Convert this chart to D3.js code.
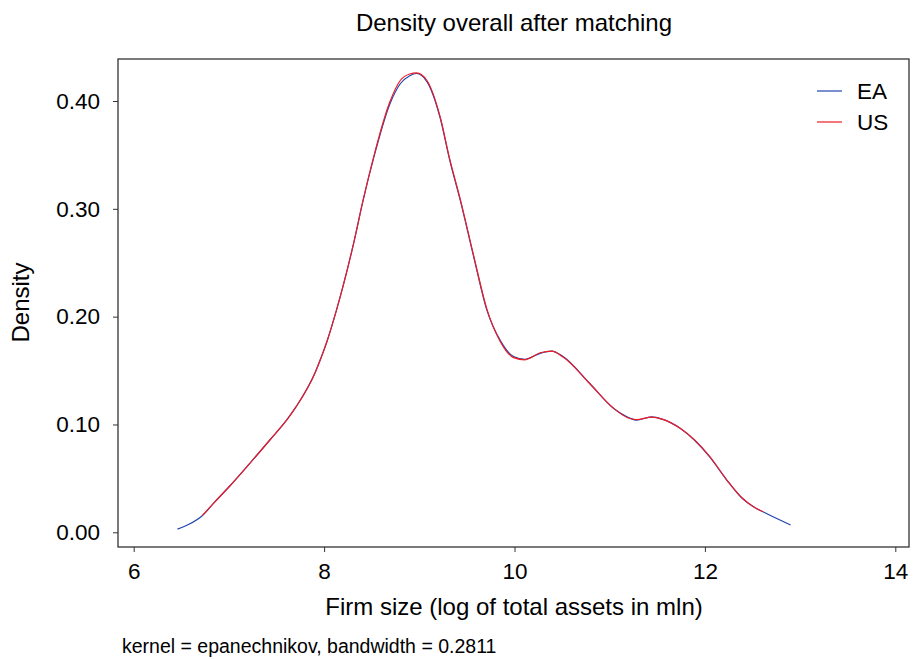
<!DOCTYPE html>
<html>
<head>
<meta charset="utf-8">
<script src="https://cdn.jsdelivr.net/npm/d3@7"></script>
<style>
  body { margin: 0; background: #fff; }
  text { font-family: "Liberation Sans", Arial, sans-serif; fill: #000; }
</style>
</head>
<body>
<div id="chart"></div>
<script>
// values
const eaX = [6.46, 6.58, 6.72, 6.85, 7.00, 7.22, 7.43, 7.62, 7.71, 7.91, 7.96, 8.03, 8.13, 8.31, 8.41, 8.52,
  8.69, 8.80, 8.90, 8.97, 9.08, 9.22, 9.32, 9.43, 9.57, 9.71, 9.85, 9.99, 10.11, 10.27, 10.39, 10.51,
  10.79, 11.04, 11.21, 11.28, 11.44, 11.55, 11.74, 12.05, 12.23, 12.39, 12.51, 12.61, 12.90];
const eaY = [0.003, 0.0074, 0.0154, 0.028, 0.042, 0.064, 0.0856, 0.1057, 0.117, 0.149, 0.160, 0.177, 0.206, 0.268, 0.308, 0.347,
  0.397, 0.416, 0.4235, 0.4255, 0.418, 0.384, 0.345, 0.308, 0.256, 0.206, 0.178, 0.163, 0.1605, 0.166, 0.168, 0.163,
  0.138, 0.115, 0.106, 0.104, 0.107, 0.105, 0.0965, 0.070, 0.0485, 0.0315, 0.0237, 0.019, 0.0068];

const usX = [6.72, 6.85, 7.00, 7.22, 7.43, 7.62, 7.71, 7.91, 7.96, 8.03, 8.13, 8.31, 8.41, 8.52,
  8.69, 8.80, 8.90, 8.97, 9.08, 9.22, 9.32, 9.43, 9.57, 9.71, 9.85, 9.99, 10.11, 10.27, 10.39, 10.51,
  10.79, 11.04, 11.21, 11.28, 11.44, 11.55, 11.74, 12.05, 12.23, 12.39, 12.51, 12.61];
const usY = [0.0154, 0.028, 0.042, 0.064, 0.0856, 0.1057, 0.117, 0.149, 0.160, 0.177, 0.206, 0.268, 0.308, 0.348,
  0.399, 0.419, 0.425, 0.426, 0.419, 0.385, 0.346, 0.309, 0.257, 0.207, 0.177, 0.162, 0.160, 0.1665, 0.168, 0.1625,
  0.138, 0.115, 0.1055, 0.1045, 0.1068, 0.105, 0.0965, 0.0705, 0.0485, 0.032, 0.0237, 0.019];

const xTicks = [6, 8, 10, 12, 14];
const yTicks = [0, 0.1, 0.2, 0.3, 0.4];
const seriesNames = ['EA', 'US'];
const seriesColors = ['#1f45b0', '#ee1c24'];

const width = 914;
const height = 659;
const frame = {left: 118, right: 909, top: 59, bottom: 547};

const svg = d3.select('#chart').append('svg')
  .attr('width', width)
  .attr('height', height);

const x = d3.scaleLinear().domain([6, 14]).range([133.7, 895.3]);
const y = d3.scaleLinear().domain([0, 0.4]).range([532.3, 101]);

// title
svg.append('text')
  .attr('x', 514)
  .attr('y', 31)
  .attr('text-anchor', 'middle')
  .style('font-size', '24px')
  .text('Density overall after matching');

// plot frame
svg.append('rect')
  .attr('x', frame.left)
  .attr('y', frame.top)
  .attr('width', frame.right - frame.left)
  .attr('height', frame.bottom - frame.top)
  .attr('fill', 'none')
  .attr('stroke', '#333')
  .attr('stroke-width', 1.3);

// axes
const xAxis = svg.append('g')
  .attr('transform', `translate(0,${frame.bottom})`)
  .call(d3.axisBottom(x).tickValues(xTicks).tickSize(5).tickSizeOuter(0).tickPadding(11).tickFormat(d3.format('d')));
xAxis.select('.domain').remove();
xAxis.selectAll('text').style('font-size', '22.5px').attr('font-family', null);
xAxis.selectAll('line').attr('stroke', '#333');

const yAxis = svg.append('g')
  .attr('transform', `translate(${frame.left},0)`)
  .call(d3.axisLeft(y).tickValues(yTicks).tickSize(5).tickSizeOuter(0).tickPadding(13).tickFormat(d3.format('.2f')));
yAxis.select('.domain').remove();
yAxis.selectAll('text').style('font-size', '22.5px').attr('font-family', null);
yAxis.selectAll('line').attr('stroke', '#333');

// axis titles
svg.append('text')
  .attr('x', 514)
  .attr('y', 615)
  .attr('text-anchor', 'middle')
  .style('font-size', '24px')
  .text('Firm size (log of total assets in mln)');

svg.append('text')
  .attr('transform', 'translate(28.5,302.5) rotate(-90)')
  .attr('text-anchor', 'middle')
  .style('font-size', '24px')
  .text('Density');

svg.append('text')
  .attr('x', 122)
  .attr('y', 653)
  .style('font-size', '19.5px')
  .text('kernel = epanechnikov, bandwidth = 0.2811');

// density lines
const line = d3.line()
  .x(d => x(d[0]))
  .y(d => y(d[1]))
  .curve(d3.curveMonotoneX);

const series = [d3.zip(eaX, eaY), d3.zip(usX, usY)];
series.forEach((pts, i) => {
  svg.append('path')
    .datum(pts)
    .attr('d', line)
    .attr('fill', 'none')
    .attr('stroke', seriesColors[i])
    .attr('stroke-width', 1.2);
});

// legend
const legend = svg.selectAll('.legend')
  .data(seriesNames)
  .enter().append('g')
  .attr('class', 'legend')
  .attr('transform', (d, i) => `translate(817,${91 + i * 31})`);
legend.append('line')
  .attr('x1', 0).attr('x2', 25)
  .attr('stroke', (d, i) => seriesColors[i])
  .attr('stroke-width', 1.2);
legend.append('text')
  .attr('x', 40)
  .attr('dy', '0.36em')
  .style('font-size', '22.5px')
  .text(d => d);
</script>
</body>
</html>
